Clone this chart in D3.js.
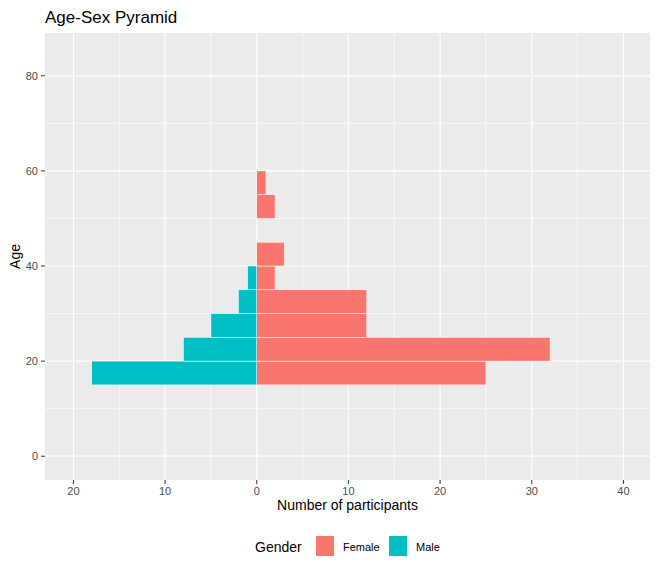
<!DOCTYPE html><html><head><meta charset="utf-8">
<script src="https://cdn.jsdelivr.net/npm/d3@7"></script>
<style>body{margin:0;background:#fff;font-family:Arial,"Liberation Sans",sans-serif}</style></head><body>
<script>
const binStarts=[15,20,25,30,35,40,45,50,55];
const female=[25,32,12,12,2,3,0,2,1];
const male=[18,8,5,2,1,0,0,0,0];
const xTicks=[-20,-10,0,10,20,30,40];
const yTicks=[0,20,40,60,80];
const binWidth=5;
const W=658,H=572,L=45,R=650,T=33,B=480;
const svg=d3.select("body").append("svg").attr("width",W).attr("height",H);
const x=d3.scaleLinear().domain([-23.1,42.9]).range([L,R]);
const y=d3.scaleLinear().domain([-5,89]).range([B,T]);
svg.append("rect").attr("x",L).attr("y",T).attr("width",R-L).attr("height",B-T).attr("fill","#EBEBEB");
const g=svg.append("g");
d3.range(-15,45,10).forEach(v=>g.append("line").attr("x1",x(v)).attr("x2",x(v)).attr("y1",T).attr("y2",B).attr("stroke","#fff").attr("stroke-width",0.6));
d3.range(10,90,20).forEach(v=>g.append("line").attr("y1",y(v)).attr("y2",y(v)).attr("x1",L).attr("x2",R).attr("stroke","#fff").attr("stroke-width",0.6));
xTicks.forEach(v=>g.append("line").attr("x1",x(v)).attr("x2",x(v)).attr("y1",T).attr("y2",B).attr("stroke","#fff").attr("stroke-width",1.2));
yTicks.forEach(v=>g.append("line").attr("y1",y(v)).attr("y2",y(v)).attr("x1",L).attr("x2",R).attr("stroke","#fff").attr("stroke-width",1.2));
function bars(vals,sign,col){
  svg.selectAll(null).data(binStarts.map((b,i)=>({b,v:vals[i]})).filter(d=>d.v>0)).enter().append("rect")
   .attr("x",d=>sign>0?x(0):x(-d.v)).attr("width",d=>Math.abs(x(d.v)-x(0)))
   .attr("y",d=>y(d.b+binWidth)).attr("height",d=>y(d.b)-y(d.b+binWidth))
   .attr("fill",col).attr("stroke","#fff").attr("stroke-width",0.5);
}
bars(female,1,"#F8766D");bars(male,-1,"#00BFC4");
xTicks.forEach(v=>{svg.append("line").attr("x1",x(v)).attr("x2",x(v)).attr("y1",B).attr("y2",B+4).attr("stroke","#333");
 svg.append("text").attr("x",x(v)).attr("y",B+15).attr("text-anchor","middle").attr("font-size",11).attr("fill","#4D4D4D").text(Math.abs(v));});
yTicks.forEach(v=>{svg.append("line").attr("x1",L-4).attr("x2",L).attr("y1",y(v)).attr("y2",y(v)).attr("stroke","#333");
 svg.append("text").attr("x",L-7).attr("y",y(v)+4).attr("text-anchor","end").attr("font-size",11).attr("fill","#4D4D4D").text(v);});
svg.append("text").attr("x",(L+R)/2).attr("y",510).attr("text-anchor","middle").attr("font-size",14).text("Number of participants");
svg.append("text").attr("transform",`translate(20,${(T+B)/2}) rotate(-90)`).attr("text-anchor","middle").attr("font-size",14).text("Age");
svg.append("text").attr("x",L).attr("y",23).attr("font-size",17).text("Age-Sex Pyramid");
svg.append("text").attr("x",255).attr("y",552).attr("font-size",14).text("Gender");
[["Female","#F8766D",316],["Male","#00BFC4",389]].forEach(([n,c,px])=>{
 svg.append("rect").attr("x",px).attr("y",536).attr("width",18).attr("height",20).attr("fill",c);
 svg.append("text").attr("x",px+27).attr("y",551).attr("font-size",11).text(n);});
</script></body></html>
